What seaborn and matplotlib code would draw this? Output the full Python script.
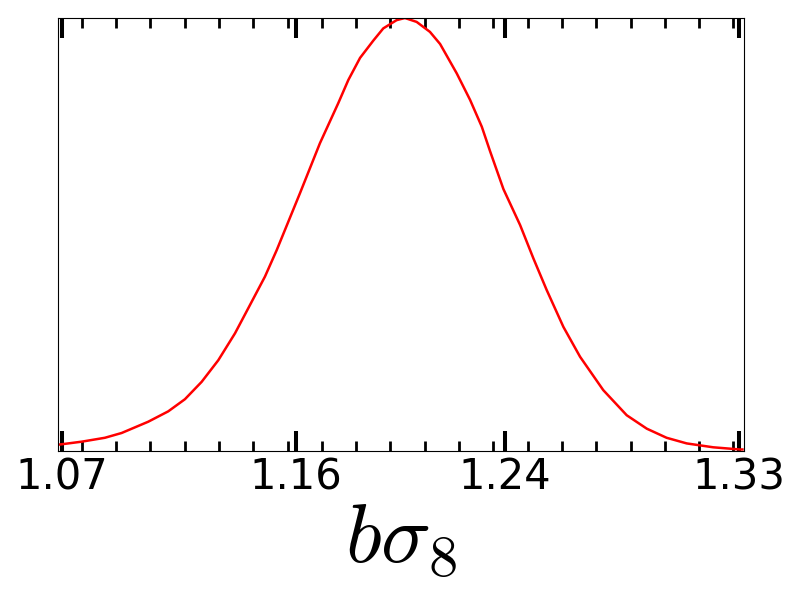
import numpy as np
import matplotlib
matplotlib.use("Agg")
import matplotlib.pyplot as plt
import seaborn as sns

plt.rcParams["mathtext.fontset"] = "cm"

# marginal posterior of b*sigma_8 (peak normalised to 1)
bsig8 = [1.0686, 1.0700, 1.0777, 1.0866, 1.0930, 1.1032, 1.1109, 1.1173, 1.1237,
         1.1301, 1.1365, 1.1416, 1.1480, 1.1525, 1.1614, 1.1691, 1.1761, 1.1800,
         1.1845, 1.1896, 1.1934, 1.1985, 1.2017, 1.2062, 1.2113, 1.2152, 1.2216,
         1.2267, 1.2312, 1.2344, 1.2395, 1.2459, 1.2510, 1.2561, 1.2625, 1.2689,
         1.2778, 1.2868, 1.2945, 1.3021, 1.3098, 1.3200, 1.3302, 1.3312]
prob = [0.015, 0.016, 0.022, 0.031, 0.042, 0.068, 0.092, 0.120, 0.160,
        0.210, 0.272, 0.330, 0.403, 0.464, 0.595, 0.711, 0.803, 0.857,
        0.908, 0.948, 0.976, 0.995, 1.000, 0.991, 0.968, 0.940, 0.872,
        0.811, 0.749, 0.692, 0.605, 0.522, 0.445, 0.372, 0.287, 0.218,
        0.141, 0.083, 0.052, 0.031, 0.018, 0.009, 0.004, 0.004]

tick_values = [1.07, 1.16, 1.24, 1.33]
tick_labels = ["1.07", "1.16", "1.24", "1.33"]
x_range = (1.0686, 1.3318)

fig = plt.figure(figsize=(8, 6), dpi=100)
ax = fig.add_axes([0.0725, 0.248, 0.8575, 0.722])

sns.lineplot(x=bsig8, y=prob, color="red", linewidth=1.8, ax=ax)

ax.set_xlim(*x_range)
ax.set_ylim(0, 1.0)
ax.set_yticks([])
ax.set_xticks(tick_values)
ax.set_xticklabels(tick_labels)
ax.set_xticks(1.0777 + 0.01316 * np.arange(20), minor=True)

ax.tick_params(axis="x", which="both", direction="in", top=True, bottom=True,
               labelsize=30, pad=3.5)
ax.tick_params(axis="x", which="major", length=14.4, width=2.9)
ax.tick_params(axis="x", which="minor", length=7.2, width=2.0)

for s in ax.spines.values():
    s.set_linewidth(0.8)

ax.set_xlabel(r"$b\sigma_8$", fontsize=60, labelpad=0)
ax.set_ylabel("")

fig.savefig("out.png", dpi=100)
